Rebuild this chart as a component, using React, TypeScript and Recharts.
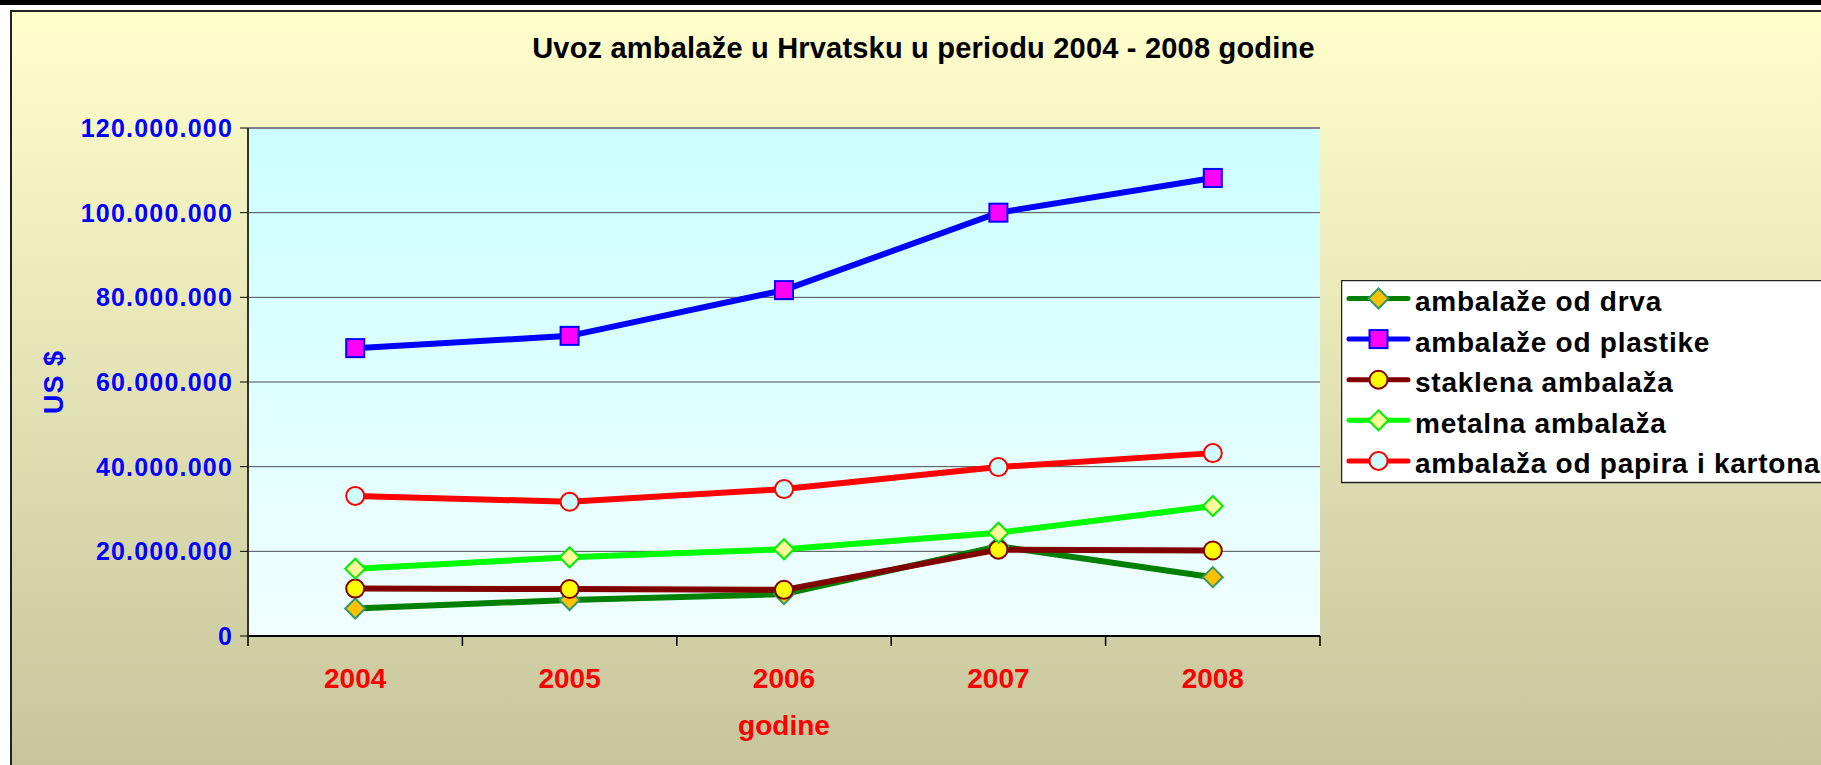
import {
  LineChart, Line, XAxis, YAxis, CartesianGrid, Legend, ReferenceLine,
} from 'recharts'

const GODINE = ['2004', '2005', '2006', '2007', '2008']
const DRVO = [6500000, 8500000, 9900000, 21200000, 13900000]
const PLASTIKA = [68000000, 70900000, 81700000, 100000000, 108200000]
const STAKLO = [11200000, 11100000, 10900000, 20400000, 20200000]
const METAL = [15900000, 18600000, 20500000, 24400000, 30700000]
const PAPIR = [33100000, 31700000, 34700000, 39900000, 43200000]
const Y_TICKS = [0, 20000000, 40000000, 60000000, 80000000, 100000000, 120000000]

const SERIES = [
  { key: 'drvo', name: 'ambalaže od drva', line: '#008000', shape: 'diamond', fill: '#FFC000', edge: '#339966' },
  { key: 'plastika', name: 'ambalaže od plastike', line: '#0000FF', shape: 'square', fill: '#FF00FF', edge: '#0000FF' },
  { key: 'staklo', name: 'staklena ambalaža', line: '#800000', shape: 'circle', fill: '#FFFF00', edge: '#800000' },
  { key: 'metal', name: 'metalna ambalaža', line: '#00FF00', shape: 'diamond', fill: '#FFFF99', edge: '#00EE00' },
  { key: 'papir', name: 'ambalaža od papira i kartona', line: '#FF0000', shape: 'circle', fill: '#CCFFFF', edge: '#FF0000' },
]

const data = GODINE.map((g, i) => ({
  godina: g,
  drvo: DRVO[i],
  plastika: PLASTIKA[i],
  staklo: STAKLO[i],
  metal: METAL[i],
  papir: PAPIR[i],
}))

const W = 1821
const H = 765
const PLOT_LEFT = 248
const PLOT_RIGHT = 1320
const PLOT_TOP = 128
const PLOT_BOTTOM = 636
const HALF_BAND = (PLOT_RIGHT - PLOT_LEFT) / GODINE.length / 2
const FONT = "'Liberation Sans', Arial, sans-serif"

const fmt = (v: number) => String(v).replace(/\B(?=(\d{3})+(?!\d))/g, '.')

function Marker({ shape, cx, cy, fill, stroke }: any) {
  if (shape === 'square') {
    return <rect x={cx - 9} y={cy - 9} width={18} height={18} fill={fill} stroke={stroke} strokeWidth={2} />
  }
  if (shape === 'circle') {
    return <circle cx={cx} cy={cy} r={9} fill={fill} stroke={stroke} strokeWidth={2} />
  }
  return (
    <path d={`M${cx} ${cy - 10} L${cx + 10} ${cy} L${cx} ${cy + 10} L${cx - 10} ${cy} Z`}
      fill={fill} stroke={stroke} strokeWidth={2} />
  )
}

function GodinaTick({ x, y, payload, index }: any) {
  return (
    <g>
      <line x1={x - HALF_BAND} x2={x - HALF_BAND} y1={y} y2={y + 10} stroke="#000" strokeWidth={1.5} />
      {index === GODINE.length - 1 && (
        <line x1={x + HALF_BAND} x2={x + HALF_BAND} y1={y} y2={y + 10} stroke="#000" strokeWidth={1.5} />
      )}
      <text x={x} y={y + 52} textAnchor="middle" fill="#FF0000" fontSize={28} fontWeight="bold" fontFamily={FONT}>
        {payload.value}
      </text>
    </g>
  )
}

function LegendBox() {
  return (
    <svg width={490} height={204} style={{ display: 'block' }}>
      <rect x={0.5} y={0.5} width={520} height={202} fill="#FFFFFF" stroke="#222" strokeWidth={1.5} />
      {SERIES.map((s, i) => {
        const cy = 18.5 + i * 40.6
        return (
          <g key={s.key}>
            <line x1={8} x2={67} y1={cy} y2={cy} stroke={s.line} strokeWidth={5} strokeLinecap="round" />
            <Marker shape={s.shape} cx={37.5} cy={cy} fill={s.fill} stroke={s.edge} />
            <text x={74} y={cy + 12.5} fontSize={28} fontWeight="bold" fontFamily={FONT} fill="#000" letterSpacing={0.75}>
              {s.name}
            </text>
          </g>
        )
      })}
    </svg>
  )
}

export default function App() {
  return (
    <div style={{ position: 'absolute', left: 0, top: 0, width: W, height: H, overflow: 'hidden', background: '#fff' }}>
      <div style={{ position: 'absolute', left: 0, top: 0, width: W, height: 5, background: '#000' }} />
      <div style={{
        position: 'absolute', left: 10, top: 10, width: W, height: H,
        borderLeft: '2px solid #222', borderTop: '2px solid #222',
        background: 'linear-gradient(to bottom, #FFFFCC 0px, #C6C59C 755px)',
      }} />
      <div style={{
        position: 'absolute', left: 0, top: 34, width: 1847, textAlign: 'center',
        fontFamily: FONT, fontWeight: 'bold', fontSize: 29, lineHeight: '29px', color: '#000',
        letterSpacing: 0.2,
      }}>
        Uvoz ambalaže u Hrvatsku u periodu 2004 - 2008 godine
      </div>
      <div style={{ position: 'absolute', left: 0, top: 0 }}>
        <LineChart width={W} height={H} data={data}
          margin={{ top: PLOT_TOP, right: W - PLOT_RIGHT, bottom: 0, left: 0 }}>
          <defs>
            <linearGradient id="plotBg" x1="0" y1="0" x2="0" y2="1">
              <stop offset="0%" stopColor="#CCFFFF" />
              <stop offset="100%" stopColor="#F0FFFF" />
            </linearGradient>
          </defs>
          <CartesianGrid vertical={false} stroke="#4d4d4d" strokeWidth={1} fill="url(#plotBg)" fillOpacity={1} />
          <XAxis dataKey="godina" height={H - PLOT_BOTTOM} interval={0} tickSize={0} tickMargin={0}
            padding={{ left: HALF_BAND, right: HALF_BAND }}
            axisLine={{ stroke: '#000', strokeWidth: 2 }} tickLine={false} tick={<GodinaTick />}
            label={{ value: 'godine', position: 'insideBottom', offset: 30, fill: '#FF0000', fontSize: 28, fontWeight: 'bold', fontFamily: FONT }} />
          <YAxis width={PLOT_LEFT} domain={[0, 120000000]} ticks={Y_TICKS} interval={0}
            tickFormatter={fmt} tickSize={8} tickMargin={7}
            axisLine={{ stroke: '#333', strokeWidth: 2 }} tickLine={{ stroke: '#000' }}
            tick={{ fill: '#0000FF', fontSize: 25, fontWeight: 'bold', fontFamily: FONT, letterSpacing: 1.2 }}
            label={{
              content: ({ viewBox }: any) => {
                const cy = viewBox.y + viewBox.height / 2
                return (
                  <text x={63} y={cy} transform={`rotate(-90 63 ${cy})`} textAnchor="middle"
                    fill="#0000FF" fontSize={27} fontWeight="bold" fontFamily={FONT} letterSpacing={1}>US $</text>
                )
              },
            }} />
          <YAxis yAxisId="okvir" orientation="right" width={0} domain={[0, 1]} tick={false} tickLine={false}
            axisLine={{ stroke: '#808080', strokeWidth: 2 }} />
          <ReferenceLine y={120000000} stroke="#808080" strokeWidth={2} />
          {SERIES.map(s => (
            <Line key={s.key} dataKey={s.key} name={s.name} type="linear" stroke={s.line} strokeWidth={6}
              isAnimationActive={false} activeDot={false}
              dot={(p: any) => (
                <Marker key={`${s.key}-${p.index}`} shape={s.shape} cx={p.cx} cy={p.cy} fill={s.fill} stroke={s.edge} />
              )} />
          ))}
          <Legend layout="vertical" align="center" verticalAlign="middle"
            wrapperStyle={{ left: 1341, top: 280, width: 490 }}
            content={() => <LegendBox />} />
        </LineChart>
      </div>
    </div>
  )
}
